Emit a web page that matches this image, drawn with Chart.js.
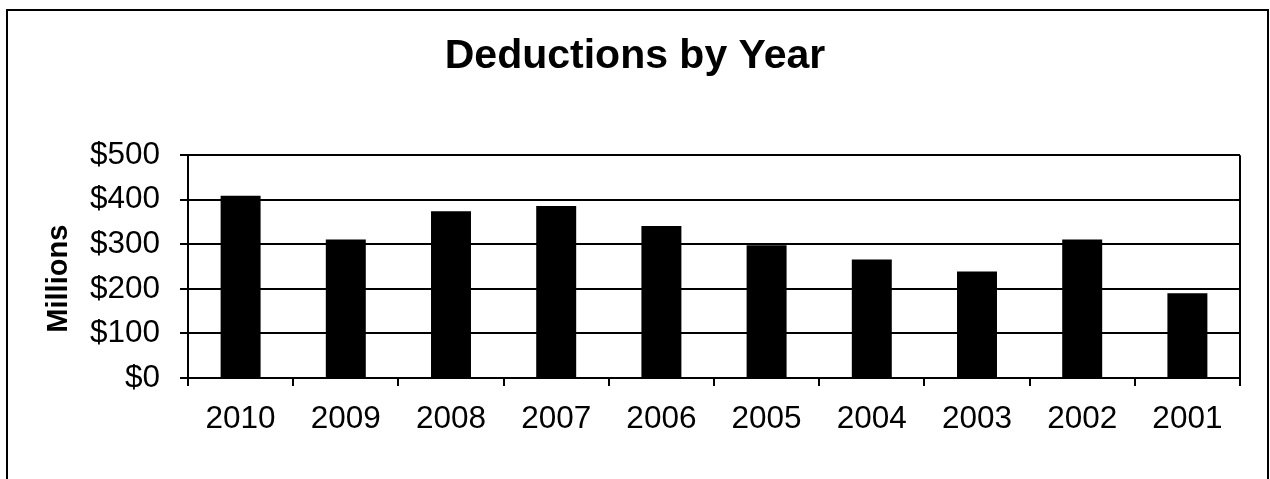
<!DOCTYPE html>
<html>
<head>
<meta charset="utf-8">
<script src="https://cdn.jsdelivr.net/npm/chart.js@4/dist/chart.umd.min.js"></script>
<style>
  html, body { margin: 0; padding: 0; background: #fff; }
  #wrap { width: 1270px; height: 479px; }
</style>
</head>
<body>
<div id="wrap"><canvas id="chart"></canvas></div>
<script>
// chart data
const years = ["2010", "2009", "2008", "2007", "2006", "2005", "2004", "2003", "2002", "2001"];
const deductions = [409, 311, 374, 386, 341, 298, 266, 239, 311, 190];
const yTicks = [0, 100, 200, 300, 400, 500];

Chart.defaults.font.family = "'Liberation Sans', Arial, sans-serif";
Chart.defaults.color = "#000";

// draws the outer frame and the right edge of the plot area
const framePlugin = {
    id: "frame",
    afterDraw(chart) {
        const c = chart.ctx;
        const a = chart.chartArea;
        c.save();
        c.strokeStyle = "#000";
        c.lineWidth = 2;
        c.strokeRect(7, 10, 1261, 490);
        c.beginPath();
        c.moveTo(a.right, a.top);
        c.lineTo(a.right, a.bottom + 8);
        c.stroke();
        c.restore();
    }
};

var ctx = document.getElementById("chart").getContext("2d");
var chart = new Chart(ctx, {
    type: "bar",
    data: {
        labels: years,
        datasets: [{
            data: deductions,
            backgroundColor: "#000",
            borderWidth: 0,
            categoryPercentage: 1,
            barPercentage: 0.38
        }]
    },
    options: {
        responsive: true,
        maintainAspectRatio: false,
        animation: false,
        layout: { padding: { left: 30, right: 30, top: 0, bottom: 0 } },
        plugins: {
            legend: { display: false },
            tooltip: { enabled: false },
            title: {
                display: true,
                text: "Deductions by Year",
                font: { size: 41, weight: "bold" },
                color: "#000",
                padding: { top: 32, bottom: 74 }
            }
        },
        scales: {
            x: {
                grid: {
                    display: true,
                    offset: true,
                    drawOnChartArea: false,
                    color: "#000",
                    lineWidth: 2,
                    tickLength: 8
                },
                border: { color: "#000", width: 2 },
                ticks: { font: { size: 31.5 }, padding: 14, maxRotation: 0 },
                afterFit: function(s) { s.height = 101; }
            },
            y: {
                min: 0,
                max: 500,
                afterBuildTicks: function(s) { s.ticks = yTicks.map(v => ({ value: v })); },
                grid: { color: "#000", lineWidth: 2, tickLength: 8 },
                border: { color: "#000", width: 2 },
                ticks: {
                    font: { size: 31.5 },
                    padding: 20,
                    callback: function(v) { return "$" + v; }
                },
                title: {
                    display: true,
                    text: "Millions   ",
                    font: { size: 29, weight: "bold" },
                    color: "#000",
                    padding: { top: 12, bottom: 0 }
                },
                afterFit: function(s) { s.width = 158; }
            }
        }
    },
    plugins: [framePlugin]
});
</script>
</body>
</html>
